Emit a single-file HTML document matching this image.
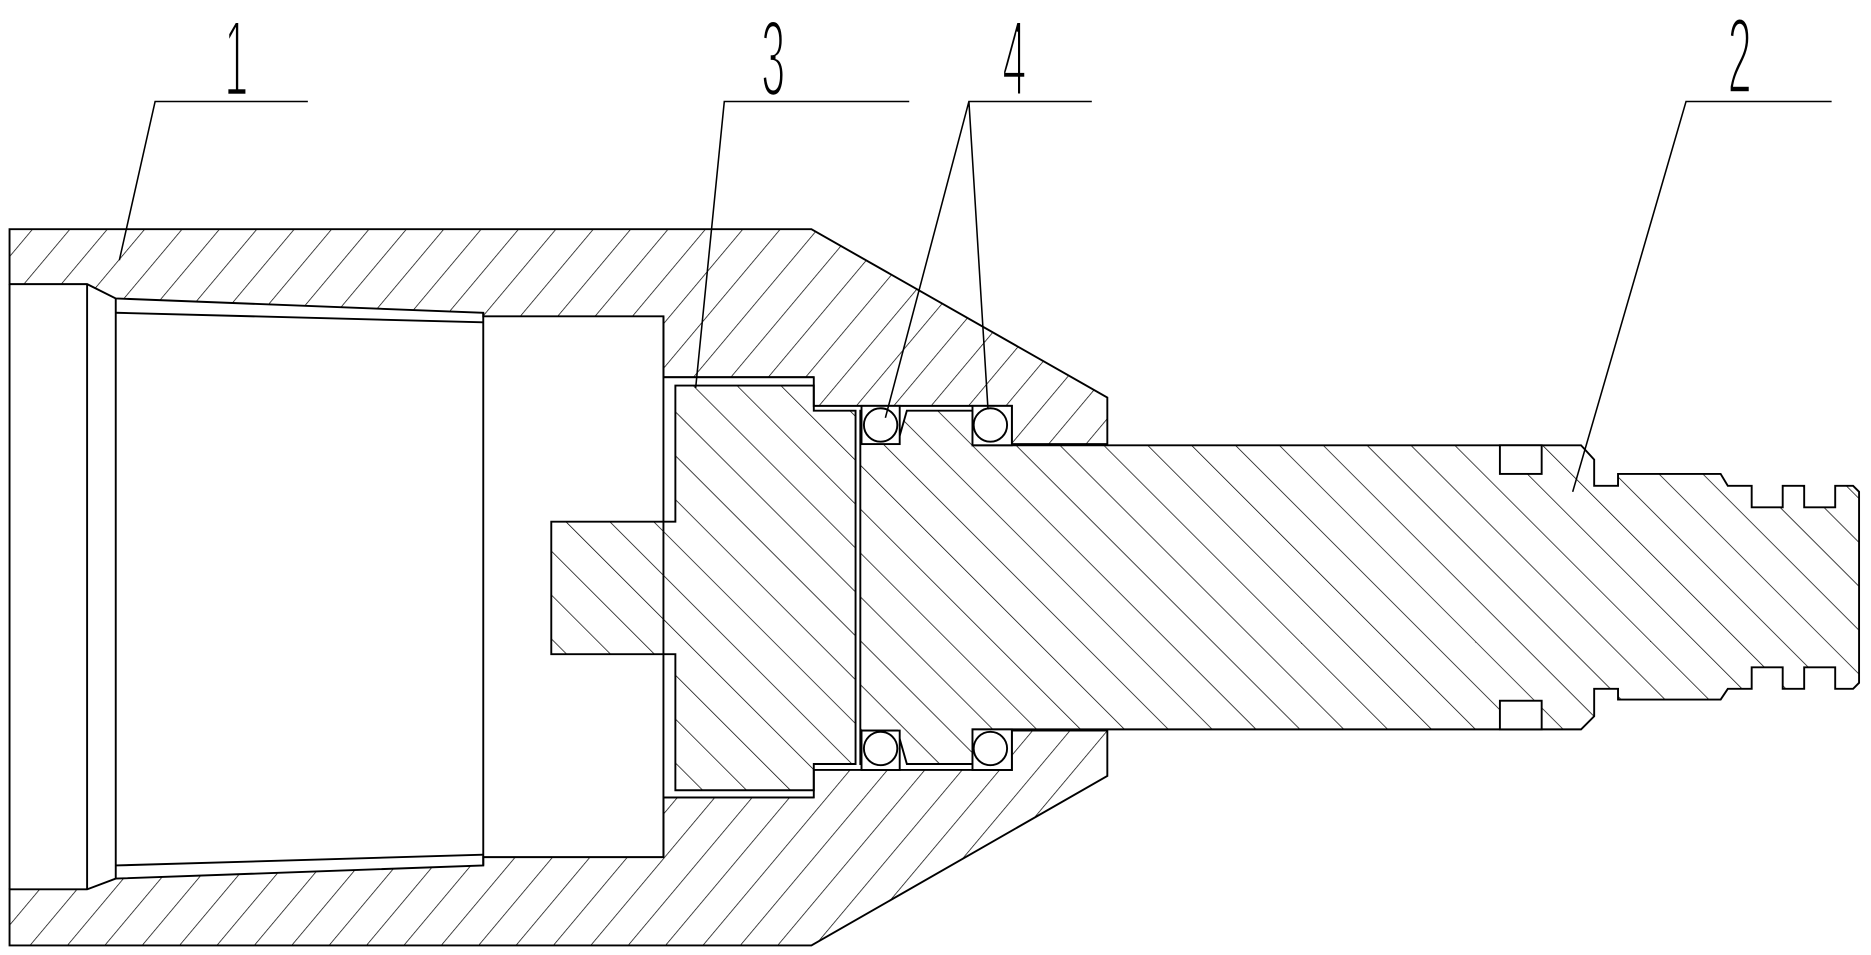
<!DOCTYPE html>
<html><head><meta charset="utf-8"><style>html,body{margin:0;padding:0;background:#fff}svg{display:block}</style></head>
<body>
<svg width="1871" height="955" viewBox="0 0 1568 800" preserveAspectRatio="none" xmlns="http://www.w3.org/2000/svg">
<defs>
<pattern id="h1" patternUnits="userSpaceOnUse" width="24" height="24" patternTransform="rotate(40)">
<line x1="0" y1="0" x2="0" y2="24" stroke="#000" stroke-width="1.2"/>
</pattern>
<pattern id="h2" patternUnits="userSpaceOnUse" width="26" height="26" patternTransform="rotate(-45)">
<line x1="0" y1="0" x2="0" y2="26" stroke="#000" stroke-width="1.2"/>
</pattern>
</defs>
<rect width="1568" height="800" fill="#fff"/>
<g stroke="#000" stroke-width="1.6" fill="none" stroke-linejoin="miter">
<path d="M8,192 H680 L928,333 V372 H848 V340 H682 V316 H556 V265 H405 V262 L97,250 L73,238 H8 Z" fill="url(#h1)"/>
<path d="M8,792 H680 L928,650 V612 H848 V645 H682 V668 H556 V718 H405 V725 L97,736 L73,745 H8 Z" fill="url(#h1)"/>
<line x1="8" y1="238" x2="8" y2="745"/>
<line x1="73" y1="238" x2="73" y2="745"/>
<line x1="97" y1="250" x2="97" y2="736"/>
<line x1="405" y1="262" x2="405" y2="725"/>
<line x1="556" y1="265" x2="556" y2="718"/>
<path d="M97,262 L405,270"/>
<path d="M97,725 L405,716"/>
<path d="M566,323 H682 V344 H717 V640 H682 V662 H566 V548 H462 V437 H566 Z" fill="url(#h2)"/>
<line x1="556" y1="316" x2="682" y2="316"/>
<line x1="556" y1="668" x2="682" y2="668"/>
<path d="M721,344 H722 V372 L752,372 L760,344 H815 V373 H1257 V373 H1325 L1336,385 V407 H1356 V397 H1442 L1448,407 H1468 V425 H1494 V407 H1512 V425 H1538 V407 H1553 L1558,412 V572 L1553,577 H1538 V559 H1512 V577 H1494 V559 H1468 V577 H1448 L1442,586 H1356 V577 H1336 V600 L1325,611 H848 V611 H815 V640 H760 L752,612 L722,612 V640 H721 Z" fill="url(#h2)"/>
<rect x="1257" y="373" width="35" height="24" fill="#fff"/>
<rect x="1257" y="587" width="35" height="24" fill="#fff"/>
<rect x="722" y="340" width="32" height="32" fill="#fff"/>
<rect x="815" y="340" width="33" height="33" fill="#fff"/>
<rect x="722" y="612" width="32" height="33" fill="#fff"/>
<rect x="815" y="611" width="33" height="34" fill="#fff"/>
<circle cx="738" cy="356" r="14" fill="#fff"/>
<circle cx="830" cy="356" r="14" fill="#fff"/>
<circle cx="738" cy="627" r="14" fill="#fff"/>
<circle cx="830" cy="627" r="14" fill="#fff"/>
<g stroke-width="1.3">
<path d="M258,85 H130 L100,218"/>
<path d="M762,85 H607 L583,325"/>
<path d="M915,85 H812 L742,350 M812,85 L828,343"/>
<path d="M1535,85 H1413 L1318,412"/>
</g>
</g>
<g font-family="Liberation Sans, sans-serif" font-size="90" fill="#000" stroke="#fff" stroke-width="3">
<text transform="translate(188,80) scale(0.4,1)" style="paint-order:normal">1</text>
<text transform="translate(638,80) scale(0.4,1)" style="paint-order:normal">3</text>
<text transform="translate(840,80) scale(0.4,1)" style="paint-order:normal">4</text>
<text transform="translate(1448,78) scale(0.4,1)" style="paint-order:normal">2</text>
</g>
</svg>
</body></html>
